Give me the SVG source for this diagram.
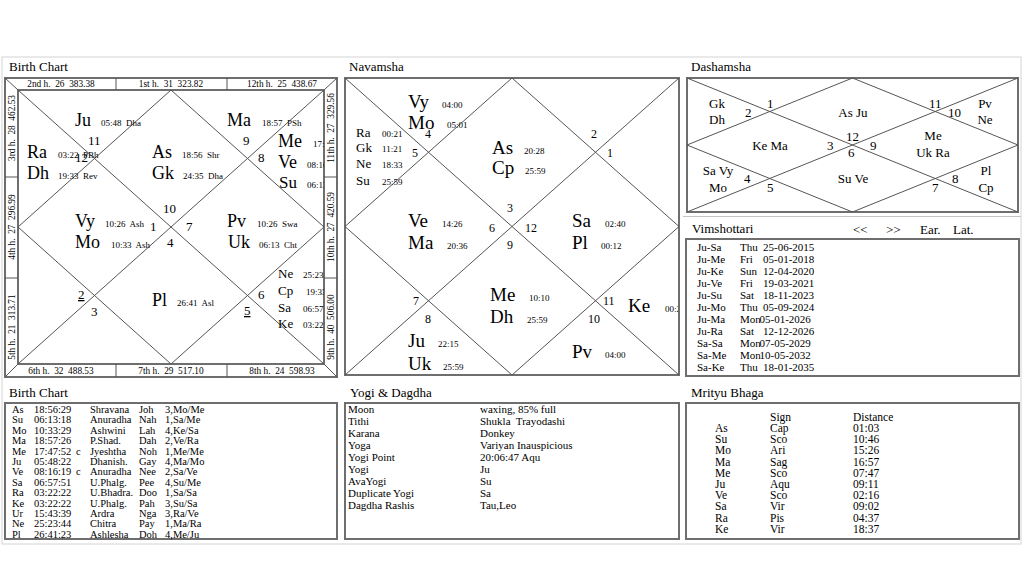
<svg xmlns="http://www.w3.org/2000/svg" width="1024" height="576" viewBox="0 0 1024 576">
<style>
text{font-family:"Liberation Serif","Times New Roman",serif;fill:#000;white-space:pre}
.ttl{font-size:13px}
.big{font-size:18px}
.mid{font-size:13px}
.sm{font-size:9px}
.hn{font-size:13px}
.hn2{font-size:12px}
.strip{font-size:9.3px}
.tb{font-size:10.5px}
.yg{font-size:11px}
.frame{fill:none;stroke:#6e6e6e;stroke-width:2}
.ln{fill:none;stroke:#555;stroke-width:1}
.page{fill:none;stroke:#d4d4d4;stroke-width:1}
</style>
<defs>
<clipPath id="cpB"><rect x="18" y="90" width="306" height="274"/></clipPath>
<clipPath id="cpN"><rect x="346" y="79" width="332" height="295"/></clipPath>
<clipPath id="cpV"><rect x="687" y="240" width="331" height="135"/></clipPath>
</defs>
<rect width="1024" height="576" fill="#fff"/>
<rect class="page" x="2" y="57" width="1019" height="487"/>
<line x1="683" y1="216.5" x2="1021" y2="216.5" stroke="#c4c4c4" stroke-width="1"/>

<g id="connectors">
<rect class="frame" x="5" y="78" width="332" height="299"/>
<rect class="frame" x="18" y="90" width="306" height="274"/>
<path class="ln" d="M5,78L18,90M337,78L324,90M5,377L18,364M337,377L324,364M116,78V90M227,78V90M116,364V377M227,364V377M5,177H18M5,278H18M324,177H337M324,278H337"/>
<path class="ln" d="M18,90L324,364M324,90L18,364M171,90L324,227L171,364L18,227Z"/>
<rect class="frame" x="345" y="78" width="334" height="297"/>
<path class="ln" d="M345,78L679,375M679,78L345,375M512,78L679,226.5L512,375L345,226.5Z"/>
<rect class="frame" x="687" y="78" width="331" height="134"/>
<path class="ln" d="M687,78L1018,212M1018,78L687,212M852.5,78L1018,145L852.5,212L687,145Z"/>
<rect class="frame" x="686" y="239" width="333" height="137"/>
<rect class="frame" x="5" y="403" width="332" height="136"/>
<rect class="frame" x="345" y="403" width="334" height="136"/>
<rect class="frame" x="686" y="403" width="333" height="136"/>
</g>

<g id="titles" class="ttl">
<text x="9" y="71">Birth Chart</text>
<text x="349" y="71">Navamsha</text>
<text x="691" y="71">Dashamsha</text>
<text x="692" y="233">Vimshottari</text>
<text x="853" y="234">&lt;&lt;</text>
<text x="886" y="234">&gt;&gt;</text>
<text x="920" y="234">Ear.</text>
<text x="953" y="234">Lat.</text>
<text x="9" y="397">Birth Chart</text>
<text x="350" y="397">Yogi &amp; Dagdha</text>
<text x="691" y="397">Mrityu Bhaga</text>
</g>

<g id="birth-strips" class="strip" text-anchor="middle">
<text x="61" y="87">2nd h.  26  383.38</text>
<text x="171" y="87">1st h.  31  323.82</text>
<text x="282" y="87">12th h.  25  438.67</text>
<text x="61" y="374">6th h.  32  488.53</text>
<text x="171" y="374">7th h.  29  517.10</text>
<text x="282" y="374">8th h.  24  598.93</text>
<text transform="translate(15,128) rotate(-90)">3rd h.  28  462.53</text>
<text transform="translate(15,227) rotate(-90)">4th h.  27  296.99</text>
<text transform="translate(15,327) rotate(-90)">5th h.  21  313.71</text>
<text transform="translate(334,128) rotate(-90)">11th h.  27  329.56</text>
<text transform="translate(334,227) rotate(-90)">10th h.  27  420.59</text>
<text transform="translate(334,327) rotate(-90)">9th h.  40  506.00</text>
</g>

<g id="birth-chart" clip-path="url(#cpB)">
<text class="big" x="75" y="126">Ju</text><text class="sm" x="101" y="126">05:48  Dha</text>
<text class="hn" x="88" y="145">11</text>
<text class="hn" x="75" y="162">12</text>
<text class="big" x="27" y="158">Ra</text><text class="sm" x="58" y="158">03:22  PBh</text>
<text class="big" x="27" y="179">Dh</text><text class="sm" x="58" y="179">19:33  Rev</text>
<text class="big" x="152" y="158">As</text><text class="sm" x="182" y="158">18:56  Shr</text>
<text class="big" x="152" y="179">Gk</text><text class="sm" x="183" y="179">24:35  Dha</text>
<text class="big" x="227" y="126">Ma</text><text class="sm" x="262" y="126">18:57  PSh</text>
<text class="hn" x="243" y="145">9</text>
<text class="hn" x="258" y="162">8</text>
<text class="big" x="278" y="147">Me</text><text class="sm" x="313" y="147">17:47</text>
<text class="big" x="278" y="168">Ve</text><text class="sm" x="307" y="168">08:16</text>
<text class="big" x="279" y="188" style="font-size:17px">Su</text><text class="sm" x="307" y="188">06:13</text>
<text class="hn" x="163" y="213">10</text>
<text class="big" x="75" y="227">Vy</text><text class="sm" x="105" y="227">10:26  Ash</text>
<text class="hn" x="150" y="231">1</text>
<text class="hn" x="186" y="231">7</text>
<text class="big" x="75" y="248">Mo</text><text class="sm" x="111" y="248">10:33  Ash</text>
<text class="hn" x="167" y="247">4</text>
<text class="big" x="227" y="227">Pv</text><text class="sm" x="257" y="227">10:26  Swa</text>
<text class="big" x="228" y="248">Uk</text><text class="sm" x="259" y="248">06:13  Cht</text>
<text class="mid" x="278" y="278">Ne</text><text class="sm" x="303" y="278">25:23</text>
<text class="mid" x="278" y="295">Cp</text><text class="sm" x="306" y="295">19:33</text>
<text class="mid" x="278" y="312">Sa</text><text class="sm" x="303" y="312">06:57</text>
<text class="mid" x="278" y="328">Ke</text><text class="sm" x="303" y="328">03:22</text>
<text class="hn" x="78" y="299" text-decoration="underline">2</text>
<text class="hn" x="91" y="316">3</text>
<text class="big" x="152" y="306">Pl</text><text class="sm" x="177" y="306">26:41  Asl</text>
<text class="hn" x="258" y="299">6</text>
<text class="hn" x="244" y="315" text-decoration="underline">5</text>
</g>

<g id="navamsha" clip-path="url(#cpN)">
<text class="big" x="408" y="108" style="font-size:19px">Vy</text><text class="sm" x="442" y="108">04:00</text>
<text class="big" x="408" y="129" style="font-size:19px">Mo</text><text class="sm" x="447" y="128">05:01</text>
<text class="hn2" x="425" y="138">4</text>
<text class="mid" x="356" y="137">Ra</text><text class="sm" x="382" y="137">00:21</text>
<text class="mid" x="356" y="152">Gk</text><text class="sm" x="382" y="152">11:21</text>
<text class="hn2" x="412" y="157">5</text>
<text class="mid" x="356" y="168">Ne</text><text class="sm" x="382" y="168">18:33</text>
<text class="mid" x="356" y="185">Su</text><text class="sm" x="382" y="185">25:59</text>
<text class="big" x="492" y="154" style="font-size:19px">As</text><text class="sm" x="524" y="154">20:28</text>
<text class="big" x="492" y="174" style="font-size:19px">Cp</text><text class="sm" x="525" y="174">25:59</text>
<text class="hn2" x="591" y="138">2</text>
<text class="hn2" x="607" y="157">1</text>
<text class="hn2" x="507" y="212">3</text>
<text class="big" x="408" y="227" style="font-size:19px">Ve</text><text class="sm" x="442" y="227">14:26</text>
<text class="big" x="408" y="249" style="font-size:19px">Ma</text><text class="sm" x="447" y="249">20:36</text>
<text class="hn2" x="489" y="232">6</text>
<text class="hn2" x="525" y="232">12</text>
<text class="hn2" x="507" y="249">9</text>
<text class="big" x="572" y="227" style="font-size:19px">Sa</text><text class="sm" x="605" y="227">02:40</text>
<text class="big" x="572" y="249" style="font-size:19px">Pl</text><text class="sm" x="601" y="249">00:12</text>
<text class="hn2" x="413" y="305">7</text>
<text class="hn2" x="425" y="323">8</text>
<text class="big" x="490" y="301" style="font-size:19px">Me</text><text class="sm" x="529" y="301">10:10</text>
<text class="big" x="490" y="323" style="font-size:19px">Dh</text><text class="sm" x="527" y="323">25:59</text>
<text class="hn2" x="603" y="305">11</text>
<text class="hn2" x="588" y="323">10</text>
<text class="big" x="628" y="312" style="font-size:19px">Ke</text><text class="sm" x="665" y="312">00:21</text>
<text class="big" x="408" y="347" style="font-size:19px">Ju</text><text class="sm" x="438" y="347">22:15</text>
<text class="big" x="408" y="370" style="font-size:19px">Uk</text><text class="sm" x="443" y="370">25:59</text>
<text class="big" x="572" y="358" style="font-size:19px">Pv</text><text class="sm" x="605" y="358">04:00</text>
</g>

<g id="dashamsha" class="mid">
<g text-anchor="middle">
<text x="717" y="108">Gk</text><text x="717" y="124">Dh</text>
<text x="853" y="117">As Ju</text>
<text x="985" y="108">Pv</text><text x="985" y="124">Ne</text>
<text x="770" y="150">Ke Ma</text>
<text x="933" y="140">Me</text><text x="933" y="157">Uk Ra</text>
<text x="718" y="175">Sa Vy</text><text x="718" y="192">Mo</text>
<text x="853" y="183">Su Ve</text>
<text x="986" y="175">Pl</text><text x="986" y="192">Cp</text>
</g>
<text x="745" y="117">2</text>
<text x="767" y="108">1</text>
<text x="929" y="108">11</text>
<text x="948" y="117">10</text>
<text x="827" y="150">3</text>
<text x="846" y="141">12</text>
<text x="870" y="150">9</text>
<text x="848" y="157">6</text>
<text x="744" y="183">4</text>
<text x="767" y="192">5</text>
<text x="932" y="192">7</text>
<text x="952" y="183">8</text>
</g>

<g id="vimshottari" class="yg" clip-path="url(#cpV)">
<text x="697" y="251">Ju-Sa</text><text x="740" y="251">Thu</text><text x="763" y="251">25-06-2015</text>
<text x="697" y="263">Ju-Me</text><text x="740" y="263">Fri</text><text x="763" y="263">05-01-2018</text>
<text x="697" y="275">Ju-Ke</text><text x="740" y="275">Sun</text><text x="763" y="275">12-04-2020</text>
<text x="697" y="287">Ju-Ve</text><text x="740" y="287">Fri</text><text x="763" y="287">19-03-2021</text>
<text x="697" y="299">Ju-Su</text><text x="740" y="299">Sat</text><text x="763" y="299">18-11-2023</text>
<text x="697" y="311">Ju-Mo</text><text x="740" y="311">Thu</text><text x="763" y="311">05-09-2024</text>
<text x="697" y="323">Ju-Ma</text><text x="740" y="323">Mon</text><text x="759.5" y="323">05-01-2026</text>
<text x="697" y="335">Ju-Ra</text><text x="740" y="335">Sat</text><text x="763" y="335">12-12-2026</text>
<text x="697" y="347">Sa-Sa</text><text x="740" y="347">Mon</text><text x="759.5" y="347">07-05-2029</text>
<text x="697" y="359">Sa-Me</text><text x="740" y="359">Mon</text><text x="759.5" y="359">10-05-2032</text>
<text x="697" y="371">Sa-Ke</text><text x="740" y="371">Thu</text><text x="763" y="371">18-01-2035</text>
</g>

<g id="birth-table" class="tb">
<text x="12" y="413">As</text><text x="34" y="413">18:56:29</text><text x="90" y="413">Shravana</text><text x="139" y="413">Joh</text><text x="165" y="413">3,Mo/Me</text>
<text x="12" y="423.4">Su</text><text x="34" y="423.4">06:13:18</text><text x="90" y="423.4">Anuradha</text><text x="139" y="423.4">Nah</text><text x="165" y="423.4">1,Sa/Me</text>
<text x="12" y="433.8">Mo</text><text x="34" y="433.8">10:33:29</text><text x="90" y="433.8">Ashwini</text><text x="139" y="433.8">Lah</text><text x="165" y="433.8">4,Ke/Sa</text>
<text x="12" y="444.2">Ma</text><text x="34" y="444.2">18:57:26</text><text x="90" y="444.2">P.Shad.</text><text x="139" y="444.2">Dah</text><text x="165" y="444.2">2,Ve/Ra</text>
<text x="12" y="454.6">Me</text><text x="34" y="454.6">17:47:52</text><text x="76" y="454.6">c</text><text x="90" y="454.6">Jyeshtha</text><text x="139" y="454.6">Noh</text><text x="165" y="454.6">1,Me/Me</text>
<text x="12" y="465">Ju</text><text x="34" y="465">05:48:22</text><text x="90" y="465">Dhanish.</text><text x="139" y="465">Gay</text><text x="165" y="465">4,Ma/Mo</text>
<text x="12" y="475.4">Ve</text><text x="34" y="475.4">08:16:19</text><text x="76" y="475.4">c</text><text x="90" y="475.4">Anuradha</text><text x="139" y="475.4">Nee</text><text x="165" y="475.4">2,Sa/Ve</text>
<text x="12" y="485.8">Sa</text><text x="34" y="485.8">06:57:51</text><text x="90" y="485.8">U.Phalg.</text><text x="139" y="485.8">Pee</text><text x="165" y="485.8">4,Su/Me</text>
<text x="12" y="496.2">Ra</text><text x="34" y="496.2">03:22:22</text><text x="90" y="496.2">U.Bhadra.</text><text x="139" y="496.2">Doo</text><text x="165" y="496.2">1,Sa/Sa</text>
<text x="12" y="506.6">Ke</text><text x="34" y="506.6">03:22:22</text><text x="90" y="506.6">U.Phalg.</text><text x="139" y="506.6">Pah</text><text x="165" y="506.6">3,Su/Sa</text>
<text x="12" y="517">Ur</text><text x="34" y="517">15:43:39</text><text x="90" y="517">Ardra</text><text x="139" y="517">Nga</text><text x="165" y="517">3,Ra/Ve</text>
<text x="12" y="527.4">Ne</text><text x="34" y="527.4">25:23:44</text><text x="90" y="527.4">Chitra</text><text x="139" y="527.4">Pay</text><text x="165" y="527.4">1,Ma/Ra</text>
<text x="12" y="537.8">Pl</text><text x="34" y="537.8">26:41:23</text><text x="90" y="537.8">Ashlesha</text><text x="139" y="537.8">Doh</text><text x="165" y="537.8">4,Me/Ju</text>
</g>

<g id="yogi-dagdha" class="yg">
<text x="348" y="413">Moon</text><text x="480" y="413">waxing, 85% full</text>
<text x="348" y="425">Tithi</text><text x="480" y="425">Shukla  Trayodashi</text>
<text x="348" y="437">Karana</text><text x="480" y="437">Donkey</text>
<text x="348" y="449">Yoga</text><text x="480" y="449">Variyan Inauspicious</text>
<text x="348" y="461">Yogi Point</text><text x="480" y="461">20:06:47 Aqu</text>
<text x="348" y="473">Yogi</text><text x="480" y="473">Ju</text>
<text x="348" y="485">AvaYogi</text><text x="480" y="485">Su</text>
<text x="348" y="497">Duplicate Yogi</text><text x="480" y="497">Sa</text>
<text x="348" y="509">Dagdha Rashis</text><text x="480" y="509">Tau,Leo</text>
</g>

<g id="mrityu-bhaga" class="yg" style="font-size:11.5px">
<text x="770" y="421">Sign</text><text x="853" y="421">Distance</text>
<text x="715" y="432">As</text><text x="770" y="432">Cap</text><text x="853" y="432">01:03</text>
<text x="715" y="443.2">Su</text><text x="770" y="443.2">Sco</text><text x="853" y="443.2">10:46</text>
<text x="715" y="454.4">Mo</text><text x="770" y="454.4">Ari</text><text x="853" y="454.4">15:26</text>
<text x="715" y="465.6">Ma</text><text x="770" y="465.6">Sag</text><text x="853" y="465.6">16:57</text>
<text x="715" y="476.8">Me</text><text x="770" y="476.8">Sco</text><text x="853" y="476.8">07:47</text>
<text x="715" y="488">Ju</text><text x="770" y="488">Aqu</text><text x="853" y="488">09:11</text>
<text x="715" y="499.2">Ve</text><text x="770" y="499.2">Sco</text><text x="853" y="499.2">02:16</text>
<text x="715" y="510.4">Sa</text><text x="770" y="510.4">Vir</text><text x="853" y="510.4">09:02</text>
<text x="715" y="521.6">Ra</text><text x="770" y="521.6">Pis</text><text x="853" y="521.6">04:37</text>
<text x="715" y="532.8">Ke</text><text x="770" y="532.8">Vir</text><text x="853" y="532.8">18:37</text>
</g>
</svg>
